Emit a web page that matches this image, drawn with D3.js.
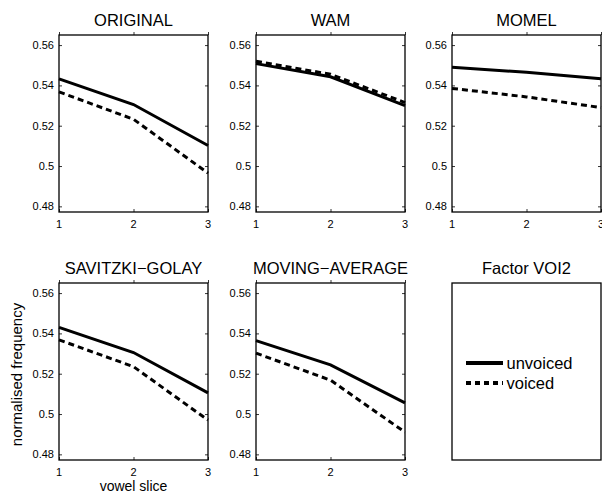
<!DOCTYPE html>
<html>
<head>
<meta charset="utf-8">
<script src="https://cdn.jsdelivr.net/npm/d3@7"></script>
<style>
  body { margin: 0; background: #fff; }
  text { font-family: "Liberation Sans", Arial, sans-serif; fill: #000; }
</style>
</head>
<body>
<svg width="602" height="494"></svg>
<script>
const slices = [1, 2, 3]
const yTicks = [0.48, 0.5, 0.52, 0.54, 0.56]
const titles = ["ORIGINAL", "WAM", "MOMEL", "SAVITZKI\u2212GOLAY", "MOVING\u2212AVERAGE"]
const unvoiced = [
  [0.5432, 0.5305, 0.5102],
  [0.5508, 0.5443, 0.5300],
  [0.5490, 0.5465, 0.5433],
  [0.5430, 0.5305, 0.5105],
  [0.5364, 0.5244, 0.5055]
]
const voiced = [
  [0.5368, 0.5232, 0.4965],
  [0.5520, 0.5455, 0.5315],
  [0.5385, 0.5343, 0.5290],
  [0.5368, 0.5235, 0.4970],
  [0.5302, 0.5168, 0.4910]
]
const legendTitle = "Factor VOI2"
const legendLabels = ["unvoiced", "voiced"]

const svg = d3.select("svg")
const panelW = 149
const panelH = 177
const colX = [59, 256, 452]
const rowY = [35, 283]

const xScale = d3.scaleLinear().domain([1, 3]).range([0, panelW])
const yScale = d3.scaleLinear().domain([0.4772, 0.565]).range([panelH, 0])

const line = d3.line()
  .x((d, i) => xScale(slices[i]))
  .y((d) => yScale(d))

const fmt = (d) => d3.format(".2f")(d).replace(/0$/, "")

const drawPanel = (k) => {
  const g = svg.append("g")
    .attr("transform", `translate(${colX[k % 3]},${rowY[Math.floor(k / 3)]})`)

  // inward ticks on all four sides, matlab style
  g.append("g").call(d3.axisBottom(xScale).tickValues(slices).tickSize(-3).tickFormat(""))
    .call((a) => a.select(".domain").remove())
  g.append("g").attr("transform", `translate(0,${panelH})`)
    .call(d3.axisTop(xScale).tickValues(slices).tickSize(3).tickFormat(""))
    .call((a) => a.select(".domain").remove())
  g.append("g").call(d3.axisRight(yScale).tickValues(yTicks).tickSize(3).tickFormat(""))
    .call((a) => a.select(".domain").remove())
  g.append("g").attr("transform", `translate(${panelW},0)`)
    .call(d3.axisLeft(yScale).tickValues(yTicks).tickSize(3).tickFormat(""))
    .call((a) => a.select(".domain").remove())
  g.selectAll(".tick line").attr("stroke", "#000").attr("stroke-width", 0.8)

  // labels
  g.selectAll(".ylab").data(yTicks).join("text")
    .attr("x", -5).attr("y", (d) => yScale(d) + 3.8)
    .attr("text-anchor", "end").attr("font-size", 11)
    .text(fmt)
  g.selectAll(".xlab").data(slices).join("text")
    .attr("x", (d) => xScale(d)).attr("y", panelH + 16)
    .attr("text-anchor", "middle").attr("font-size", 11)
    .text((d) => d)

  g.append("path").datum(unvoiced[k]).attr("d", line)
    .attr("fill", "none").attr("stroke", "#000").attr("stroke-width", 3)
  g.append("path").datum(voiced[k]).attr("d", line)
    .attr("fill", "none").attr("stroke", "#000").attr("stroke-width", 3)
    .attr("stroke-dasharray", "6,4")

  g.append("rect").attr("width", panelW).attr("height", panelH)
    .attr("fill", "none").attr("stroke", "#000").attr("stroke-width", 1.3)

  g.append("text").attr("x", panelW / 2).attr("y", -9)
    .attr("text-anchor", "middle").attr("font-size", 16.5)
    .text(titles[k])
}

titles.forEach((t, k) => drawPanel(k))

// legend panel
const lg = svg.append("g").attr("transform", `translate(${colX[2]},${rowY[1]})`)
lg.append("rect").attr("width", panelW).attr("height", panelH)
  .attr("fill", "none").attr("stroke", "#000").attr("stroke-width", 1.3)
lg.append("text").attr("x", panelW / 2).attr("y", -9)
  .attr("text-anchor", "middle").attr("font-size", 16.5).text(legendTitle)
legendLabels.forEach((lab, i) => {
  const y = 80 + i * 20
  lg.append("line").attr("x1", 14).attr("x2", 51).attr("y1", y).attr("y2", y)
    .attr("stroke", "#000").attr("stroke-width", 4)
    .attr("stroke-dasharray", i === 1 ? "5,4" : null)
  lg.append("text").attr("x", 54.5).attr("y", y + 6)
    .attr("font-size", 16.5).text(lab)
})

// axis titles
svg.append("text").attr("x", colX[0] + panelW / 2).attr("y", 491)
  .attr("text-anchor", "middle").attr("font-size", 14).text("vowel slice")
svg.append("text")
  .attr("transform", `translate(22,${rowY[1] + panelH / 2 + 3}) rotate(-90)`)
  .attr("text-anchor", "middle").attr("font-size", 15).text("normalised frequency")
</script>
</body>
</html>
